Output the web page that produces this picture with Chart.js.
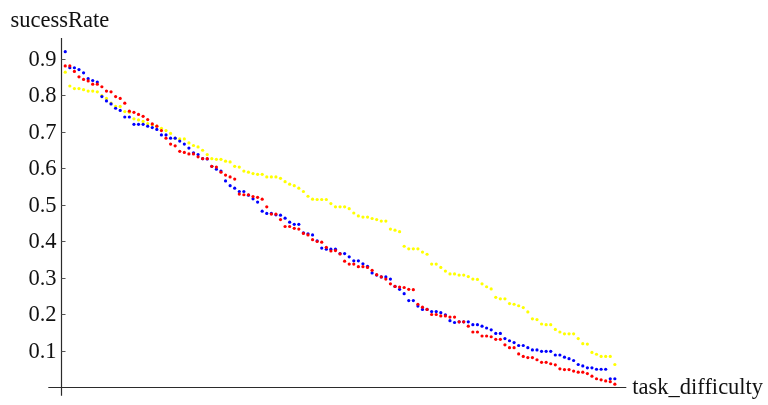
<!DOCTYPE html>
<html>
<head>
<meta charset="utf-8">
<title>sucessRate vs task_difficulty</title>
<script src="https://cdn.jsdelivr.net/npm/chart.js@4/dist/chart.umd.min.js"></script>
<style>
  html, body { margin: 0; padding: 0; background: #ffffff; }
  #wrap { position: relative; width: 768px; height: 405px; }
</style>
</head>
<body>
<div id="wrap"><canvas id="chart"></canvas></div>
<script>
// Success rate of three runs, one value per task, tasks ordered by difficulty (1..121)
const blueRate = [
  0.920, 0.876, 0.876, 0.871, 0.862, 0.846, 0.841, 0.837, 0.797, 0.785,
  0.777, 0.765, 0.759, 0.741, 0.741, 0.721, 0.721, 0.721, 0.716, 0.712,
  0.707, 0.692, 0.692, 0.683, 0.683, 0.675, 0.667, 0.656, 0.643, 0.638,
  0.627, 0.626, 0.606, 0.598, 0.593, 0.566, 0.553, 0.546, 0.537, 0.537,
  0.527, 0.517, 0.508, 0.483, 0.477, 0.477, 0.473, 0.472, 0.464, 0.453,
  0.447, 0.447, 0.424, 0.421, 0.418, 0.402, 0.382, 0.379, 0.379, 0.379,
  0.367, 0.367, 0.358, 0.347, 0.347, 0.339, 0.332, 0.314, 0.308, 0.303,
  0.303, 0.297, 0.277, 0.269, 0.257, 0.238, 0.238, 0.223, 0.214, 0.214,
  0.208, 0.208, 0.205, 0.199, 0.183, 0.178, 0.180, 0.180, 0.180, 0.172,
  0.172, 0.168, 0.163, 0.158, 0.148, 0.148, 0.134, 0.128, 0.123, 0.115,
  0.115, 0.109, 0.103, 0.103, 0.099, 0.099, 0.099, 0.089, 0.089, 0.083,
  0.079, 0.074, 0.063, 0.059, 0.054, 0.054, 0.050, 0.050, 0.050, 0.024,
  0.024
];
const redRate = [
  0.881, 0.881, 0.866, 0.851, 0.844, 0.840, 0.831, 0.831, 0.824, 0.812,
  0.810, 0.797, 0.792, 0.779, 0.757, 0.754, 0.748, 0.743, 0.734, 0.722,
  0.716, 0.704, 0.683, 0.667, 0.662, 0.647, 0.644, 0.640, 0.640, 0.632,
  0.627, 0.627, 0.606, 0.604, 0.590, 0.582, 0.577, 0.571, 0.530, 0.528,
  0.528, 0.523, 0.521, 0.516, 0.495, 0.475, 0.475, 0.460, 0.441, 0.441,
  0.436, 0.434, 0.422, 0.418, 0.405, 0.400, 0.398, 0.384, 0.374, 0.375,
  0.366, 0.346, 0.338, 0.338, 0.331, 0.331, 0.329, 0.321, 0.309, 0.303,
  0.297, 0.284, 0.277, 0.275, 0.274, 0.269, 0.268, 0.228, 0.220, 0.214,
  0.200, 0.200, 0.196, 0.196, 0.193, 0.193, 0.180, 0.180, 0.168, 0.152,
  0.152, 0.141, 0.141, 0.139, 0.132, 0.132, 0.117, 0.109, 0.109, 0.092,
  0.085, 0.082, 0.082, 0.076, 0.069, 0.069, 0.065, 0.062, 0.051, 0.049,
  0.049, 0.045, 0.042, 0.042, 0.038, 0.031, 0.024, 0.021, 0.018, 0.016,
  0.009
];
const yellowRate = [
  0.864, 0.826, 0.819, 0.819, 0.816, 0.812, 0.812, 0.810, 0.800, 0.792,
  0.779, 0.770, 0.770, 0.756, 0.754, 0.736, 0.733, 0.729, 0.723, 0.720,
  0.716, 0.710, 0.704, 0.696, 0.683, 0.681, 0.681, 0.670, 0.663, 0.659,
  0.650, 0.638, 0.627, 0.625, 0.625, 0.620, 0.618, 0.606, 0.604, 0.593,
  0.590, 0.586, 0.584, 0.584, 0.577, 0.577, 0.577, 0.573, 0.564, 0.557,
  0.553, 0.546, 0.537, 0.524, 0.516, 0.515, 0.515, 0.515, 0.504, 0.495,
  0.495, 0.495, 0.490, 0.478, 0.470, 0.467, 0.467, 0.463, 0.460, 0.456,
  0.456, 0.434, 0.431, 0.427, 0.387, 0.380, 0.380, 0.380, 0.371, 0.365,
  0.338, 0.338, 0.329, 0.319, 0.311, 0.311, 0.308, 0.308, 0.304, 0.297,
  0.296, 0.284, 0.276, 0.270, 0.247, 0.243, 0.243, 0.230, 0.228, 0.224,
  0.219, 0.207, 0.188, 0.186, 0.174, 0.172, 0.172, 0.159, 0.152, 0.147,
  0.147, 0.147, 0.134, 0.120, 0.119, 0.096, 0.091, 0.085, 0.085, 0.085,
  0.063
];
const yTicks = [0.1, 0.2, 0.3, 0.4, 0.5, 0.6, 0.7, 0.8, 0.9];
const yTickLabels = ["0.1", "0.2", "0.3", "0.4", "0.5", "0.6", "0.7", "0.8", "0.9"];
const xTitle = "task_difficulty";
const yTitle = "sucessRate";

const FONT = '"Liberation Serif", "Times New Roman", serif';

// task number is the position in the list, starting at 1
const toPoints = arr => arr.map((v, k) => ({ x: k + 1, y: v }));

// Axes crossing at the origin, ticks and labels drawn through the chart scales
const crossAxes = {
  id: 'crossAxes',
  beforeDatasetsDraw(chart) {
    const ctx = chart.ctx;
    const xs = chart.scales.x, ys = chart.scales.y;
    const x0 = Math.round(xs.getPixelForValue(0)) + 0.5;
    const y0 = Math.round(ys.getPixelForValue(0)) + 0.5;
    ctx.save();
    ctx.strokeStyle = '#2b2b2b';
    ctx.lineWidth = 1.2;
    ctx.beginPath();
    ctx.moveTo(xs.getPixelForValue(xs.min), y0);
    ctx.lineTo(xs.getPixelForValue(xs.max), y0);
    ctx.moveTo(x0, ys.getPixelForValue(ys.min));
    ctx.lineTo(x0, ys.getPixelForValue(ys.max));
    ctx.stroke();

    ctx.strokeStyle = '#555';
    ctx.lineWidth = 1;
    ctx.fillStyle = '#111';
    ctx.font = '22.5px ' + FONT;
    ctx.textAlign = 'right';
    ctx.textBaseline = 'middle';
    yTicks.forEach((t, k) => {
      const py = Math.round(ys.getPixelForValue(t)) + 0.5;
      ctx.beginPath();
      ctx.moveTo(x0, py);
      ctx.lineTo(x0 + 4, py);
      ctx.stroke();
      ctx.fillText(yTickLabels[k], x0 - 5, py + 1);
    });

    ctx.textAlign = 'left';
    ctx.textBaseline = 'alphabetic';
    ctx.fillText(yTitle, 10.5, 27);
    ctx.fillText(xTitle, xs.getPixelForValue(xs.max) + 6, y0 + 6);
    ctx.restore();
  }
};

const pointSet = (label, data, color) => ({
  label,
  data: toPoints(data),
  backgroundColor: color,
  borderColor: color,
  borderWidth: 0,
  pointRadius: 1.6,
  pointHoverRadius: 1.6,
  showLine: false
});

new Chart(document.getElementById('chart'), {
  type: 'scatter',
  data: {
    datasets: [
      pointSet('red', redRate, '#ff0000'),
      pointSet('blue', blueRate, '#0000ff'),
      pointSet('yellow', yellowRate, '#ffff00')
    ]
  },
  options: {
    responsive: true,
    maintainAspectRatio: false,
    animation: false,
    layout: { padding: { left: 48.3, right: 141.7, top: 38, bottom: 9.3 } },
    plugins: { legend: { display: false }, tooltip: { enabled: false } },
    scales: {
      x: { type: 'linear', min: -2.7, max: 123.5, display: false },
      y: { type: 'linear', min: -0.0225, max: 0.9575, display: false }
    }
  },
  plugins: [crossAxes]
});
</script>
</body>
</html>
